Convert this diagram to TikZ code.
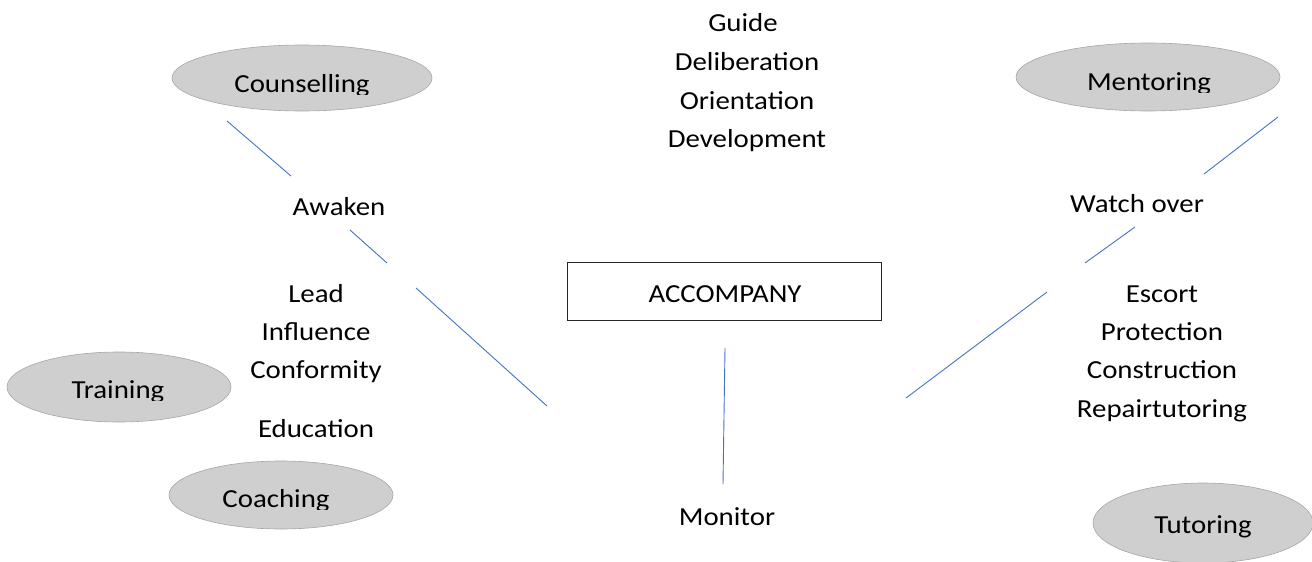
\documentclass[tikz,border=0pt]{standalone}
\usepackage{fontspec}
\setmainfont{Carlito}
\usetikzlibrary{shapes.geometric}
% slightly widened lettering
\newcommand\wide[1]{\scalebox{1.11}[1]{#1}}
\begin{document}
\begin{tikzpicture}[x=1pt,y=-1pt,
  every node/.style={font=\fontsize{26}{30}\selectfont, inner sep=0pt},
  word/.style={anchor=base},
  bubble/.style={ellipse, fill=black!19, draw=black!35, line width=0.6pt},
  link/.style={draw={rgb,255:red,68;green,114;blue,196}, line width=0.9pt},
  framebox/.style={draw=black!85, line width=1pt, minimum width=314pt, minimum height=58pt}]
\useasboundingbox (0,0) rectangle (1312,562);

% ellipses
\node[bubble, minimum width=260pt, minimum height=66pt] (couns) at (302,78) {};
\node[bubble, minimum width=224pt, minimum height=70pt] (train) at (119,387) {};
\node[bubble, minimum width=264pt, minimum height=68pt] (ment) at (1148,77) {};
\node[bubble, minimum width=220pt, minimum height=80pt] (tut) at (1203,523) {};
\node[bubble, minimum width=224pt, minimum height=68pt] (coach) at (281,495) {};

% ellipse labels; their descenders are cut off at the text box edge
\begin{scope}
  \clip (150,40) rectangle (450,94);
  \node[word] (counsT) at (302,92) {\wide{Counselling}};
\end{scope}
\begin{scope}
  \clip (0,350) rectangle (240,400);
  \node[word] (trainT) at (118,398) {\wide{Training}};
\end{scope}
\begin{scope}
  \clip (1000,40) rectangle (1300,92);
  \node[word] (mentT) at (1149,90) {\wide{Mentoring}};
\end{scope}
\begin{scope}
  \clip (160,455) rectangle (400,509);
  \node[word] (coachT) at (276,507) {\wide{Coaching}};
\end{scope}
\node[word] (tutT) at (1203,533) {\wide{Tutoring}};

% central box
\node[framebox] (acc) at (724,291) {};
\node[word] (accT) at (725,302) {\wide{ACCOMPANY}};

% word lists
\node[word] (guide) at (743,31) {\wide{Guide}};
\node[word] (delib) at (747,70) {\wide{Deliberation}};
\node[word] (orient) at (747,109) {\wide{Orientation}};
\node[word] (devel) at (747,147) {\wide{Development}};

\node[word] (awaken) at (339,215) {\wide{Awaken}};
\node[word] (lead) at (316,302) {\wide{Lead}};
\node[word] (infl) at (316,340) {\wide{Influence}};
\node[word] (conf) at (316,378) {\wide{Conformity}};
\node[word] (educ) at (316,437) {\wide{Education}};

\node[word] (watch) at (1137,212) {\wide{Watch over}};
\node[word] (escort) at (1162,302) {\wide{Escort}};
\node[word] (prot) at (1162,340) {\wide{Protection}};
\node[word] (constr) at (1162,378) {\wide{Construction}};
\node[word] (repair) at (1162,417) {\wide{Repairtutoring}};

\node[word] (monitor) at (727,525) {\wide{Monitor}};

% connector pieces
\coordinate (l1a) at (227,121); \coordinate (l1b) at (291,176);
\coordinate (l2a) at (350,230); \coordinate (l2b) at (387,263);
\coordinate (l3a) at (416,288); \coordinate (l3b) at (547,406);
\coordinate (r1a) at (1278,117); \coordinate (r1b) at (1204,174);
\coordinate (r2a) at (1135,227); \coordinate (r2b) at (1085,263);
\coordinate (r3a) at (1047,292); \coordinate (r3b) at (906,398);
\coordinate (v1a) at (725,348); \coordinate (v1b) at (723,484);

\draw[link] (l1a) -- (l1b);
\draw[link] (l2a) -- (l2b);
\draw[link] (l3a) -- (l3b);
\draw[link] (r1a) -- (r1b);
\draw[link] (r2a) -- (r2b);
\draw[link] (r3a) -- (r3b);
\draw[link] (v1a) -- (v1b);
\end{tikzpicture}
\end{document}
